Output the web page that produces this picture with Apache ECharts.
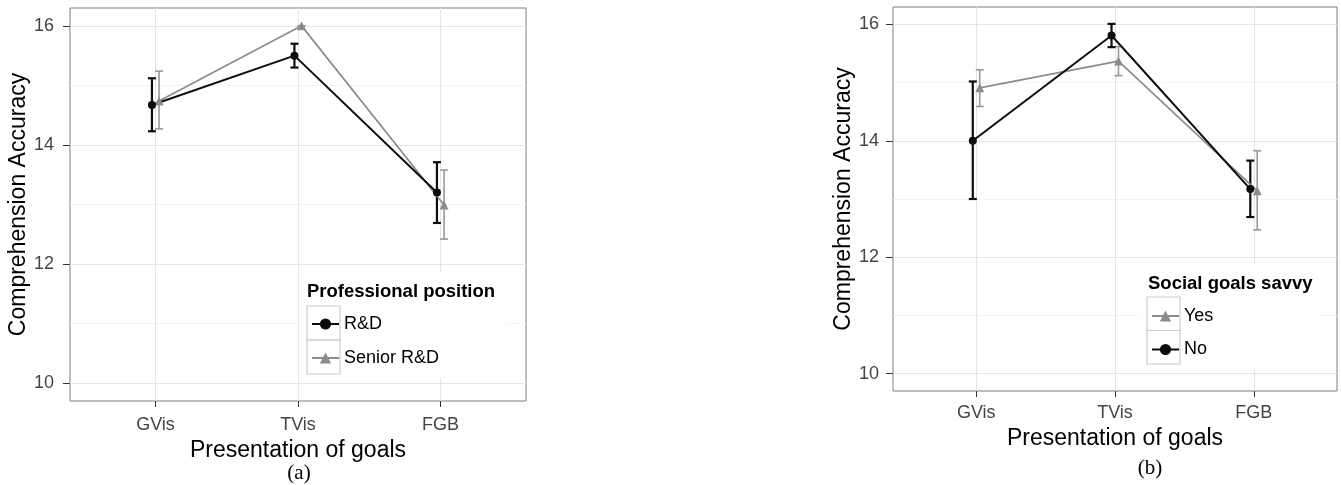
<!DOCTYPE html>
<html>
<head>
<meta charset="utf-8">
<script src="https://cdn.jsdelivr.net/npm/echarts@6/dist/echarts.min.js"></script>
<style>
  html, body { margin: 0; padding: 0; background: #fff; }
  #chart { width: 1341px; height: 485px; }
</style>
</head>
<body>
<div id="chart"></div>
<script>
// categories on the x axis
const categories = ['GVis', 'TVis', 'FGB'];

// panel (a): professional position
const rdMean = [14.67, 15.50, 13.20];
const rdLow = [14.23, 15.30, 12.69];
const rdHigh = [15.12, 15.70, 13.71];
const seniorMean = [14.74, 16.00, 12.99];
const seniorLow = [14.27, 16.00, 12.42];
const seniorHigh = [15.24, 16.00, 13.58];

// panel (b): social goals savvy
const yesMean = [14.91, 15.37, 13.14];
const yesLow = [14.59, 15.12, 12.47];
const yesHigh = [15.22, 15.62, 13.83];
const noMean = [14.00, 15.81, 13.17];
const noLow = [13.00, 15.61, 12.69];
const noHigh = [15.02, 16.01, 13.66];

const yTicks = [10, 12, 14, 16];
const yMinor = [11, 13, 15];
const xTicks = [1, 2, 3];
const dodge = 0.025;

const BLACK = '#0d0d0d';
const GREY = '#8c8c8c';
const FONT = 'Liberation Sans';

function xAxisFor(gridIndex, margin, nameGap) {
  return {
    type: 'value', gridIndex: gridIndex, min: 0.4, max: 3.6,
    name: 'Presentation of goals', nameLocation: 'middle', nameGap: nameGap,
    nameTextStyle: { fontFamily: FONT, fontSize: 23, color: '#000' },
    axisLine: { show: false },
    axisTick: { show: true, length: 6, lineStyle: { color: '#333' }, customValues: xTicks },
    axisLabel: {
      customValues: xTicks, margin: margin, fontFamily: FONT, fontSize: 18, color: '#444',
      formatter: v => categories[Math.round(v) - 1] || ''
    },
    splitLine: { show: true, lineStyle: { color: '#e5e5e5', width: 1 } }
  };
}

function yAxisFor(gridIndex, margin, nameGap) {
  return {
    type: 'value', gridIndex: gridIndex, min: 9.7, max: 16.3,
    name: 'Comprehension Accuracy', nameLocation: 'middle', nameGap: nameGap,
    nameTextStyle: { fontFamily: FONT, fontSize: 23, color: '#000' },
    axisLine: { show: false },
    axisTick: { show: true, length: 7, lineStyle: { color: '#333' }, customValues: yTicks },
    axisLabel: { customValues: yTicks, margin: margin, fontFamily: FONT, fontSize: 18, color: '#444' },
    splitLine: { show: true, lineStyle: { color: '#e5e5e5', width: 1 } }
  };
}

function yMinorFor(gridIndex) {
  return {
    type: 'value', gridIndex: gridIndex, min: 9.7, max: 16.3, position: 'left',
    axisLine: { show: false },
    axisTick: { show: false, customValues: yMinor },
    axisLabel: { show: false },
    splitLine: { show: true, lineStyle: { color: '#f4f4f4', width: 1 } }
  };
}

function lineSeries(name, means, sign, color, symbol, size, width, axis) {
  return {
    name: name, type: 'line', xAxisIndex: axis, yAxisIndex: axis * 2,
    data: means.map((v, i) => [i + 1 + sign * dodge, v]),
    symbol: symbol, symbolSize: size, showSymbol: true,
    lineStyle: { color: color, width: width },
    itemStyle: { color: color },
    emphasis: { disabled: true },
    animation: false
  };
}

function errorSeries(means, low, high, sign, color, width, axis) {
  return {
    type: 'custom', xAxisIndex: axis, yAxisIndex: axis * 2,
    data: means.map((v, i) => [i + 1 + sign * dodge, low[i], high[i]]),
    renderItem: function (params, api) {
      const x = api.value(0);
      const lo = api.coord([x, api.value(1)]);
      const hi = api.coord([x, api.value(2)]);
      const w = 4;
      const st = { stroke: color, lineWidth: width };
      return {
        type: 'group',
        children: [
          { type: 'line', shape: { x1: lo[0], y1: lo[1], x2: hi[0], y2: hi[1] }, style: st },
          { type: 'line', shape: { x1: hi[0] - w, y1: hi[1], x2: hi[0] + w, y2: hi[1] }, style: st },
          { type: 'line', shape: { x1: lo[0] - w, y1: lo[1], x2: lo[0] + w, y2: lo[1] }, style: st }
        ]
      };
    },
    silent: true,
    animation: false
  };
}

function keyBoxes(x, y0, h) {
  return [0, 1].map(k => ({
    type: 'rect', z: 5,
    shape: { x: x, y: y0 + k * h, width: 33, height: h },
    style: { fill: 'none', stroke: '#cccccc', lineWidth: 1.2 }
  }));
}

const chart = echarts.init(document.getElementById('chart'), null, { renderer: 'canvas' });

const option = {
  backgroundColor: '#fff',
  animation: false,
  grid: [
    { left: 70, top: 8, width: 456, height: 393, show: true, borderColor: '#7f7f7f', borderWidth: 1, backgroundColor: 'transparent' },
    { left: 893, top: 7, width: 444, height: 384, show: true, borderColor: '#7f7f7f', borderWidth: 1, backgroundColor: 'transparent' }
  ],
  xAxis: [xAxisFor(0, 15, 33), xAxisFor(1, 13, 31)],
  yAxis: [yAxisFor(0, 16, 37), yMinorFor(0), yAxisFor(1, 14, 36), yMinorFor(1)],
  legend: [
    {
      data: ['R&D', 'Senior R&D'], orient: 'vertical', left: 311, top: 315, padding: 0,
      itemWidth: 27, itemHeight: 14, itemGap: 16,
      textStyle: { fontFamily: FONT, fontSize: 18, color: '#000', lineHeight: 14 },
      selectedMode: false
    },
    {
      data: ['Yes', 'No'], orient: 'vertical', left: 1151, top: 307, padding: 0,
      itemWidth: 27, itemHeight: 14, itemGap: 15.5,
      textStyle: { fontFamily: FONT, fontSize: 18, color: '#000', lineHeight: 14 },
      selectedMode: false
    }
  ],
  graphic: [
    { type: 'rect', z: 1, shape: { x: 300, y: 273, width: 207, height: 106 }, style: { fill: '#fff' } },
    { type: 'rect', z: 1, shape: { x: 1140, y: 265, width: 178, height: 105 }, style: { fill: '#fff' } },
    { type: 'text', z: 10, x: 307, y: 292, style: { text: 'Professional position', fontFamily: FONT, fontWeight: 'bold', fontSize: 18.5, fill: '#000', verticalAlign: 'middle', align: 'left' } },
    { type: 'text', z: 10, x: 1148, y: 284, style: { text: 'Social goals savvy', fontFamily: FONT, fontWeight: 'bold', fontSize: 18.5, fill: '#000', verticalAlign: 'middle', align: 'left' } },
    ...keyBoxes(307, 306, 34),
    ...keyBoxes(1147, 297, 33.5),
    { type: 'text', z: 10, x: 299, y: 473, style: { text: '(a)', fontFamily: 'Liberation Serif', fontSize: 21, fill: '#000', verticalAlign: 'middle', align: 'center' } },
    { type: 'text', z: 10, x: 1150, y: 468, style: { text: '(b)', fontFamily: 'Liberation Serif', fontSize: 21, fill: '#000', verticalAlign: 'middle', align: 'center' } }
  ],
  series: [
    // panel (a)
    errorSeries(seniorMean, seniorLow, seniorHigh, 1, '#999999', 1.6, 0),
    errorSeries(rdMean, rdLow, rdHigh, -1, BLACK, 2.2, 0),
    lineSeries('Senior R&D', seniorMean, 1, GREY, 'triangle', 9, 1.7, 0),
    lineSeries('R&D', rdMean, -1, BLACK, 'circle', 8, 2, 0),
    // panel (b)
    errorSeries(yesMean, yesLow, yesHigh, 1, '#999999', 1.6, 1),
    errorSeries(noMean, noLow, noHigh, -1, BLACK, 2.2, 1),
    lineSeries('Yes', yesMean, 1, GREY, 'triangle', 9, 1.7, 1),
    lineSeries('No', noMean, -1, BLACK, 'circle', 8, 2, 1)
  ]
};

chart.setOption(option);
</script>
</body>
</html>
